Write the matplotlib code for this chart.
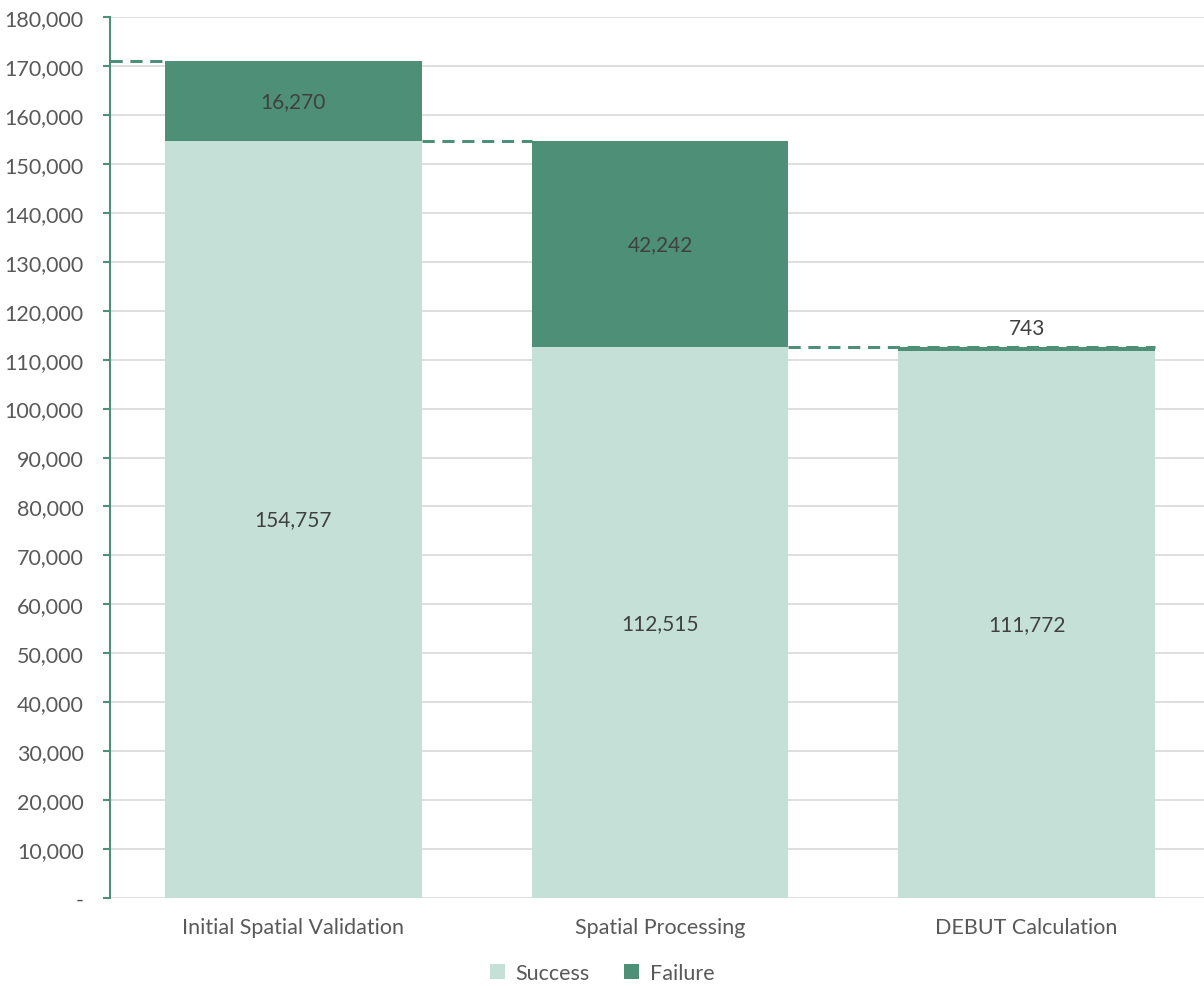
import matplotlib
matplotlib.use("Agg")
from matplotlib import pyplot as plt
import matplotlib.ticker as mticker
import numpy as np

stages = ["Initial Spatial Validation", "Spatial Processing", "DEBUT Calculation"]
success = [154757, 112515, 111772]
failure = [16270, 42242, 743]

success_color = "#C5E1D7"
failure_color = "#4E8F78"
text_color = "#595959"
plt.rcParams['font.family'] = ['Lato', 'DejaVu Sans']

fig = plt.figure(figsize=(12.04, 9.87), dpi=100)
ax = fig.add_axes([110 / 1204, 88 / 987, 1100 / 1204, 881 / 987])

x = np.arange(len(stages))
width = 0.7
success = np.array(success)
failure = np.array(failure)
totals = success + failure

ax.bar(x, success, width, color=success_color, label="Success", zorder=2)
ax.bar(x, failure, width, bottom=success, color=failure_color, label="Failure", zorder=2)

# dashed connectors between the stages
left_edges = x - width / 2
right_edges = x + width / 2
dash = (0, (4, 2.5))
ax.plot([-0.5, left_edges[0]], [totals[0], totals[0]], ls=dash, color=failure_color, lw=2.2, zorder=3)
for i in range(len(stages) - 1):
    end = left_edges[i + 1] if i + 1 < len(stages) - 1 else right_edges[i + 1]
    ax.plot([right_edges[i], end], [success[i], success[i]], ls=dash, color=failure_color, lw=2.2, zorder=3)

for i in range(len(stages)):
    ax.text(x[i], success[i] / 2, "{:,}".format(success[i]), ha='center', va='center',
            fontsize=15, color="#404040", zorder=4)
    if failure[i] > 5000:
        ax.text(x[i], success[i] + failure[i] / 2, "{:,}".format(failure[i]), ha='center', va='center',
                fontsize=15, color="#404040", zorder=4)
    else:
        ax.text(x[i], totals[i] + 1800, "{:,}".format(failure[i]), ha='center', va='bottom',
                fontsize=15, color="#404040", zorder=4)

ax.set_xlim(-0.5, 2.5)
ax.set_ylim(0, 180000)
ax.yaxis.set_major_locator(mticker.MultipleLocator(10000))
ax.yaxis.set_major_formatter(mticker.FuncFormatter(lambda v, p: "-" if v == 0 else "{:,}".format(int(v))))
ax.grid(axis='y', color="#D9D9D9", lw=1.2, zorder=0)
ax.set_axisbelow(True)

for s in ['top', 'right', 'bottom']:
    ax.spines[s].set_visible(False)
ax.spines['left'].set_color(failure_color)
ax.spines['left'].set_linewidth(1.5)
ax.tick_params(axis='y', colors=failure_color, length=5, width=1.5, labelsize=15.5, labelcolor=text_color, pad=14)
ax.tick_params(axis='x', length=0, labelsize=15.5, labelcolor=text_color, pad=14)
ax.set_xticks(x)
ax.set_xticklabels(stages)

leg = fig.legend(loc='lower center', bbox_to_anchor=(0.5, -0.017), ncol=2, frameon=False,
                 fontsize=15.5, labelcolor=text_color, handlelength=0.7, handleheight=0.7,
                 handletextpad=0.5, columnspacing=1.6)

fig.savefig("out.png", dpi=100)
plt.close(fig)
